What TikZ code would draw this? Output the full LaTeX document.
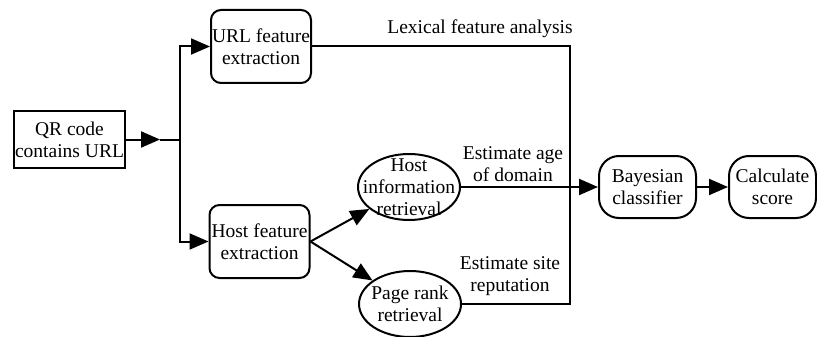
\documentclass[tikz,border=0pt]{standalone}
\usepackage{fontspec}
\setmainfont{Liberation Serif}
\usetikzlibrary{arrows.meta,shapes.geometric}
\tikzstyle{step box}=[
        draw,
        line width = 2pt,
        rounded corners = 10pt,
        minimum width = 100pt,
        minimum height = 73pt,
        inner sep = 0pt,
        align = center
    ]
\tikzstyle{retrieval}=[
    draw,
    line width = 2pt,
    ellipse,
    minimum width = 102pt,
    minimum height = 66pt,
    inner sep = 0pt
]
\tikzstyle{result box}=[
    draw,
    line width = 2pt,
    rounded corners = 20pt,
    minimum height = 62pt,
    inner sep = 0pt,
    align = center
]

\begin{document}
\begin{tikzpicture}[x=1pt, y=-1pt, line width=2pt,
        arr/.style = {-{Triangle[length=19pt,width=16pt]}},
        note/.style = {align=center, inner sep=0pt}]
        \fontsize{19.5}{22}\selectfont
        \useasboundingbox (0,0) rectangle (817,337);

        \node[draw, line width=2pt, minimum width=111pt, minimum height=57pt, inner sep=0pt, align=center] (qr) at (69.5,139.5) {QR code\\contains URL};
        \node[step box] (url) at (261,46.5) {URL feature\\extraction};
        \node[step box] (host) at (259.5,241.5) {Host feature\\extraction};
        \node[retrieval, label={[note]center:Host\\information\\retrieval}] (info) at (409,187) {};
        \node[retrieval, label={[note]center:Page rank\\retrieval}] (rank) at (410,304) {};
        \node[result box, minimum width=97pt] (bayes) at (647.5,187) {Bayesian\\classifier};
        \node[result box, minimum width=87pt] (score) at (772.5,187) {Calculate\\score};

        \coordinate (tip) at (160,139.5);
        \coordinate (split) at (180,139.5);
        \coordinate (mtop) at (570,46.5);
        \coordinate (mbot) at (570,304);

        \node[note] (lexical) at (480,29) {Lexical feature analysis};
        \node[note] (age) at (513,164) {Estimate age\\of domain};
        \node[note] (rep) at (510,276) {Estimate site\\reputation};

        \draw[arr] (qr) -- (tip);
        \draw (tip) -- (split);
        \draw[arr] (split) |- (url);
        \draw[arr] (split) |- (host);
        \draw[arr] (host.east) -- (info);
        \draw[arr] (host.east) -- (rank);
        \draw (url) -- (mtop) -- (mbot) -- (rank);
        \draw[arr] (info) -- (bayes);
        \draw[arr] (bayes) -- (score);

    \end{tikzpicture}
\end{document}
